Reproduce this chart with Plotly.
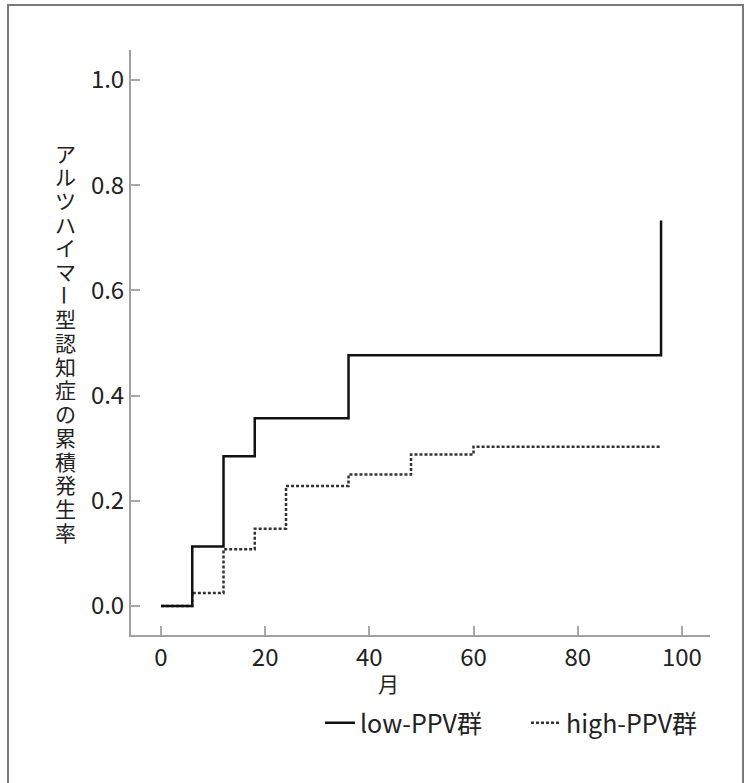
import plotly.graph_objects as go

# ---- data ----
low_months = [0, 6, 12, 18, 36, 96]
low_rate = [0.0, 0.113, 0.285, 0.357, 0.477, 0.733]
high_months = [0, 6, 12, 18, 24, 36, 48, 60, 96]
high_rate = [0.0, 0.025, 0.108, 0.147, 0.228, 0.250, 0.288, 0.303, 0.303]
series_names = ["low-PPV群", "high-PPV群"]
x_ticks = [0, 20, 40, 60, 80, 100]
y_ticks = [0.0, 0.2, 0.4, 0.6, 0.8, 1.0]
y_title = "アルツハイマー型認知症の累積発生率"
x_title = "月"

W, H = 747, 783
L, R, T, B = 131, 37, 50, 148
PW, PH = W - L - R, H - T - B


def px(xp):
    return (xp - L) / PW


def py(yp):
    return (T + PH - yp) / PH


FONT = "Noto Sans CJK JP"
TXT = "#222222"

fig = go.Figure()
# high group drawn first so the solid line sits on top where they coincide
fig.add_trace(go.Scatter(
    x=high_months, y=high_rate, mode="lines", line_shape="hv",
    name=series_names[1], legendrank=2,
    line=dict(color="#333333", width=2.5, dash="3px,2px")))
fig.add_trace(go.Scatter(
    x=low_months, y=low_rate, mode="lines", line_shape="hv",
    name=series_names[0], legendrank=1,
    line=dict(color="#111111", width=2.5)))

axis_common = dict(
    showline=True, linecolor="#a0a0a0", linewidth=2, mirror=False,
    showgrid=False, zeroline=False, ticks="inside", ticklen=9,
    tickcolor="#a8a8a8", tickwidth=1.5,
    tickfont=dict(family=FONT, size=24, color=TXT),
)
fig.update_xaxes(range=[-5.76, 105.4], tickvals=x_ticks,
                 ticktext=[str(v) for v in x_ticks], **axis_common)
fig.update_yaxes(range=[-0.055, 1.057], tickvals=y_ticks,
                 ticktext=[f"{v:.1f}" for v in y_ticks], **axis_common)

annotations = []
# vertical y-axis title, one upright character per row
pitch = 23.7
for i, ch in enumerate(y_title):
    annotations.append(dict(
        text=ch, x=px(65), y=py(152.5 + i * pitch), xref="paper", yref="paper",
        showarrow=False, xanchor="center", yanchor="middle",
        textangle=90 if ch == "ー" else 0,
        font=dict(family=FONT, size=21, color=TXT)))
annotations.append(dict(
    text=x_title, x=px(388), y=py(683), xref="paper", yref="paper",
    showarrow=False, xanchor="center", yanchor="middle",
    font=dict(family=FONT, size=21, color=TXT)))

shapes = [dict(type="rect", xref="paper", yref="paper",
               x0=px(8), x1=px(743), y0=py(800), y1=py(5),
               line=dict(color="#7a7a7a", width=2), fillcolor="rgba(0,0,0,0)")]

fig.update_layout(
    width=W, height=H, autosize=False,
    margin=dict(l=L, r=R, t=T, b=B, pad=0, autoexpand=False),
    paper_bgcolor="white", plot_bgcolor="white",
    showlegend=True,
    legend=dict(orientation="h", x=px(320), y=py(723), xanchor="left",
                yanchor="middle", font=dict(family=FONT, size=25, color=TXT),
                entrywidth=161, bgcolor="rgba(0,0,0,0)", itemwidth=30,
                traceorder="normal"),
    annotations=annotations, shapes=shapes,
)

fig.write_html("out.html", config={"displayModeBar": False},
               post_script="document.body.style.margin='0';")
